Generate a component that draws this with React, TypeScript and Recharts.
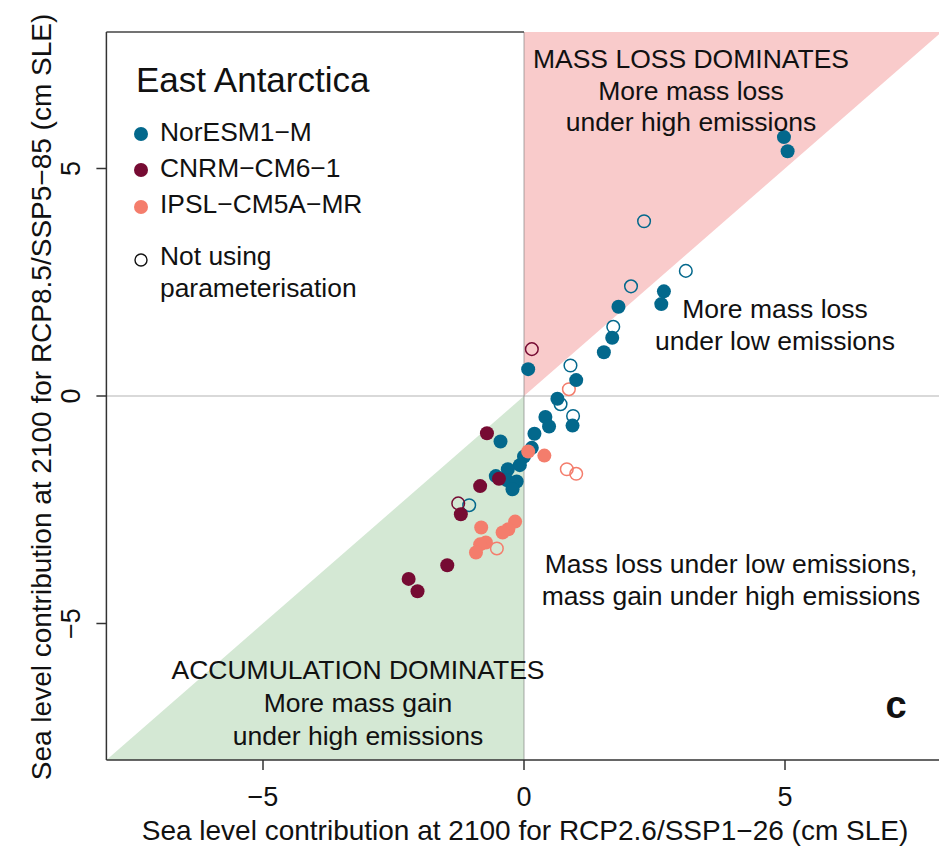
import React from "react";
import {
  ScatterChart,
  Scatter,
  XAxis,
  YAxis,
  ReferenceArea,
  ReferenceLine,
} from "recharts";

// NorESM1-M (teal)
const norX = [4.98, 5.05, 2.68, 2.63, 1.81, 1.69, 1.53, 0.08, 1.0, 0.64, 0.41, 0.48, 0.93, 0.2, -0.45, 0.15, 0.0, -0.08, -0.31, -0.54, -0.33, -0.14, -0.22];
const norY = [5.69, 5.38, 2.3, 2.02, 1.96, 1.28, 0.96, 0.59, 0.35, -0.06, -0.46, -0.67, -0.65, -0.83, -1.0, -1.14, -1.33, -1.52, -1.61, -1.76, -1.85, -1.88, -2.05];
const norOpenX = [2.3, 3.1, 2.05, 1.71, 0.89, 0.7, 0.94, -1.05];
const norOpenY = [3.84, 2.75, 2.41, 1.52, 0.67, -0.18, -0.44, -2.4];

// CNRM-CM6-1 (maroon)
const cnrmX = [-0.71, -0.48, -0.84, -1.21, -1.47, -2.21, -2.04];
const cnrmY = [-0.82, -1.82, -1.98, -2.6, -3.72, -4.02, -4.29];
const cnrmOpenX = [0.15, -1.26];
const cnrmOpenY = [1.03, -2.36];

// IPSL-CM5A-MR (salmon)
const ipslX = [0.08, 0.39, -0.17, -0.3, -0.41, -0.82, -0.73, -0.84, -0.92];
const ipslY = [-1.22, -1.31, -2.76, -2.93, -3.0, -2.89, -3.22, -3.26, -3.44];
const ipslOpenX = [0.86, 0.82, 1.0, -0.52];
const ipslOpenY = [0.15, -1.61, -1.71, -3.35];

const ticks = [-5, 0, 5];
const tickLabels = ["\u22125", "0", "5"];

const TEAL = "#03688c";
const MAROON = "#760b33";
const SALMON = "#f47d6c";
const FONT = "'Liberation Sans', Arial, Helvetica, sans-serif";

const zip = (xs: number[], ys: number[]) => xs.map((x, i) => ({ x, y: ys[i] }));

const filled = (color: string) => (p: any) => (
  <circle cx={p.cx} cy={p.cy} r={7} fill={color} stroke="none" />
);
const open = (color: string) => (p: any) => (
  <circle cx={p.cx} cy={p.cy} r={6.3} fill="none" stroke={color} strokeWidth={1.5} />
);

const PinkTri = (p: any) => (
  <polygon
    points={`${p.x},${p.y + p.height} ${p.x},${p.y} ${p.x + p.width},${p.y}`}
    fill="#f9cbcb"
  />
);
const GreenTri = (p: any) => (
  <polygon
    points={`${p.x},${p.y + p.height} ${p.x + p.width},${p.y} ${p.x + p.width},${p.y + p.height}`}
    fill="#d4e8d4"
  />
);

const labelOf = (v: number) => tickLabels[ticks.indexOf(v)] ?? String(v);

const XTick = (p: any) => (
  <text x={p.x} y={806} textAnchor="middle" fontSize={27} fontFamily={FONT} fill="#111">
    {labelOf(p.payload.value)}
  </text>
);
const YTick = (p: any) => (
  <text
    x={80}
    y={p.y}
    textAnchor="middle"
    fontSize={27}
    fontFamily={FONT}
    fill="#111"
    transform={`rotate(-90, 80, ${p.y})`}
  >
    {labelOf(p.payload.value)}
  </text>
);

const txt = { fontFamily: FONT, fill: "#111" };

export default function App() {
  return (
    <div style={{ position: "absolute", left: 0, top: 0, width: 939, height: 847, overflow: "hidden", background: "#fff" }}>
      <ScatterChart width={960} height={847} margin={{ top: 32, right: 18.4, bottom: 0, left: 26.4 }}>
        <XAxis
          type="number"
          dataKey="x"
          domain={[-8, 8]}
          ticks={ticks}
          allowDataOverflow
          height={87}
          tickSize={10}
          tick={<XTick />}
          axisLine={{ stroke: "#333", strokeWidth: 1.5 }}
          tickLine={{ stroke: "#333", strokeWidth: 1.5 }}
        />
        <YAxis
          type="number"
          dataKey="y"
          domain={[-8, 8]}
          ticks={ticks}
          allowDataOverflow
          width={80}
          tickSize={10}
          tick={<YTick />}
          axisLine={{ stroke: "#333", strokeWidth: 1.5 }}
          tickLine={{ stroke: "#333", strokeWidth: 1.5 }}
        />
        <ReferenceArea x1={0} x2={8} y1={0} y2={8} shape={PinkTri} />
        <ReferenceArea x1={-8} x2={0} y1={-8} y2={0} shape={GreenTri} />
        <ReferenceLine y={0} stroke="#808080" strokeOpacity={0.4} strokeWidth={1.5} />
        <ReferenceLine x={0} stroke="#808080" strokeOpacity={0.45} strokeWidth={1.5} />
        <ReferenceLine
          segment={[
            { x: -8, y: 8 },
            { x: 0, y: 8 },
          ]}
          stroke="#444"
          strokeWidth={1.5}
        />
        <Scatter data={zip(norOpenX, norOpenY)} shape={open(TEAL)} isAnimationActive={false} />
        <Scatter data={zip(cnrmOpenX, cnrmOpenY)} shape={open(MAROON)} isAnimationActive={false} />
        <Scatter data={zip(ipslOpenX, ipslOpenY)} shape={open(SALMON)} isAnimationActive={false} />
        <Scatter data={zip(norX, norY)} shape={filled(TEAL)} isAnimationActive={false} />
        <Scatter data={zip(cnrmX, cnrmY)} shape={filled(MAROON)} isAnimationActive={false} />
        <Scatter data={zip(ipslX, ipslY)} shape={filled(SALMON)} isAnimationActive={false} />
      </ScatterChart>

      <svg width={939} height={847} style={{ position: "absolute", left: 0, top: 0, pointerEvents: "none" }}>
        {/* axis titles */}
        <text x={525} y={840} textAnchor="middle" fontSize={28} {...txt}>
          Sea level contribution at 2100 for RCP2.6/SSP1{"\u2212"}26 (cm SLE)
        </text>
        <text x={51} y={397} textAnchor="middle" fontSize={28} {...txt} transform="rotate(-90, 51, 397)">
          Sea level contribution at 2100 for RCP8.5/SSP5{"\u2212"}85 (cm SLE)
        </text>

        {/* legend */}
        <text x={136} y={92} fontSize={35} {...txt}>East Antarctica</text>
        <circle cx={141} cy={134} r={7} fill={TEAL} />
        <text x={160} y={141} fontSize={26.4} {...txt}>NorESM1{"\u2212"}M</text>
        <circle cx={141} cy={170} r={7} fill={MAROON} />
        <text x={160} y={177} fontSize={26.4} {...txt}>CNRM{"\u2212"}CM6{"\u2212"}1</text>
        <circle cx={141} cy={207} r={7} fill={SALMON} />
        <text x={160} y={213} fontSize={26.4} {...txt}>IPSL{"\u2212"}CM5A{"\u2212"}MR</text>
        <circle cx={141} cy={260} r={6} fill="none" stroke="#111" strokeWidth={1.4} />
        <text x={160} y={265} fontSize={26.4} {...txt}>Not using</text>
        <text x={160} y={297} fontSize={26.4} {...txt}>parameterisation</text>

        {/* region annotations */}
        <g fontSize={26.5} textAnchor="middle" {...txt}>
          <text x={691} y={68}>MASS LOSS DOMINATES</text>
          <text x={691} y={100}>More mass loss</text>
          <text x={691} y={131}>under high emissions</text>
          <text x={775} y={318}>More mass loss</text>
          <text x={775} y={350}>under low emissions</text>
          <text x={731} y={573}>Mass loss under low emissions,</text>
          <text x={731} y={605}>mass gain under high emissions</text>
          <text x={358} y={679}>ACCUMULATION DOMINATES</text>
          <text x={358} y={712}>More mass gain</text>
          <text x={358} y={745}>under high emissions</text>
        </g>
        <text x={896} y={718} textAnchor="middle" fontSize={38} fontWeight="bold" {...txt}>c</text>
      </svg>
    </div>
  );
}
